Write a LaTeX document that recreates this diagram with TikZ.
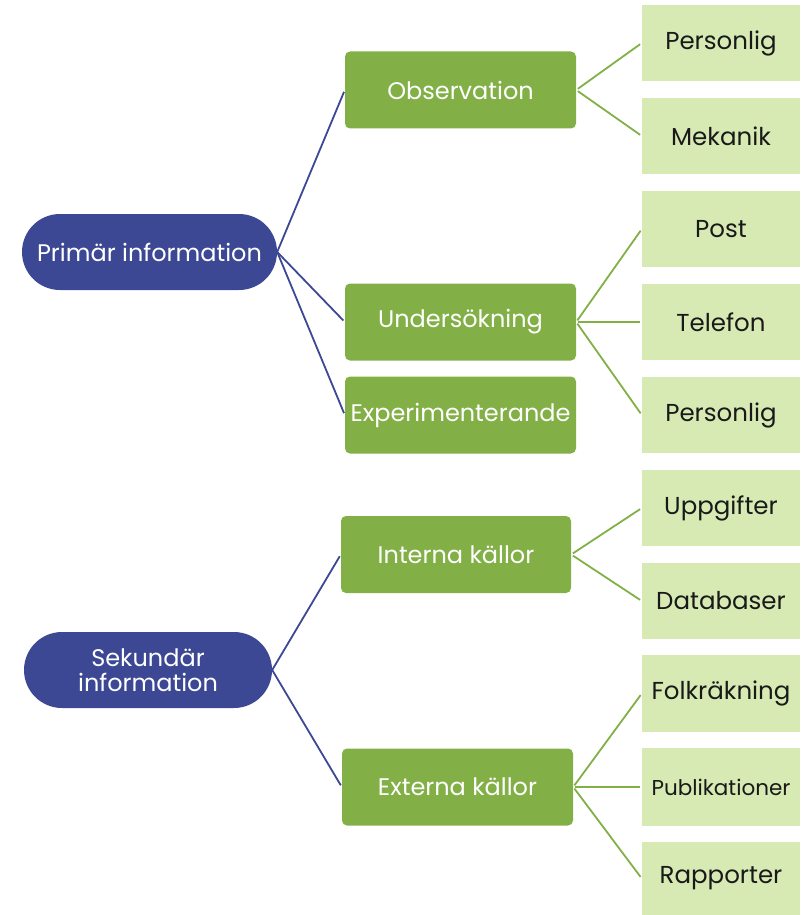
\documentclass[tikz,border=0pt]{standalone}
\usepackage{fontspec}
\setmainfont{Poppins}
\definecolor{infoblue}{HTML}{3C4894}
\definecolor{leafgreen}{HTML}{82B046}
\definecolor{palegreen}{HTML}{D7EAB4}
\begin{document}
\begin{tikzpicture}[x=1pt,y=-1pt,
    root/.style={fill=infoblue,text=white,rounded corners=38pt,minimum width=255pt,
      minimum height=76pt,font=\fontsize{24}{25}\selectfont,align=center,inner sep=0pt},
    branch/.style={fill=leafgreen,text=white,rounded corners=5pt,minimum width=231pt,
      minimum height=77pt,font=\fontsize{24}{25}\selectfont,inner sep=0pt},
    leaf/.style={fill=palegreen,text=black!90,minimum width=158pt,minimum height=76pt,
      font=\fontsize{24.5}{26}\selectfont,inner sep=0pt},
    blueline/.style={draw=infoblue,line width=1.8pt,shorten >=2pt},
    greenline/.style={draw=leafgreen,line width=1.8pt,shorten <=2pt,shorten >=2pt}]
  \useasboundingbox (0,0) rectangle (800,915);
  \draw
    (149.5,252) node[root] (prim){Primär information}
    (148,670) node[root,minimum width=248pt] (sek){Sekundär\\information}
    (460.5,90) node[branch] (obs){Observation}
    (460.5,322) node[branch] (und){Undersökning}
    (460.5,415) node[branch] (exp){Experimenterande}
    (456,554.5) node[branch,minimum width=230pt] (int){Interna källor}
    (457.5,787) node[branch,minimum width=231pt] (ext){Externa källor}
    (721,43) node[leaf] (obs1){Personlig}
    (721,136) node[leaf] (obs2){Mekanik}
    (721,229) node[leaf] (und1){Post}
    (721,322) node[leaf] (und2){Telefon}
    (721,415) node[leaf] (und3){Personlig}
    (721,508) node[leaf] (int1){Uppgifter}
    (721,601) node[leaf] (int2){Databaser}
    (721,693.5) node[leaf,minimum height=77pt] (ext1){Folkräkning}
    (721,787) node[leaf,minimum height=78pt,font=\fontsize{21.5}{24}\selectfont] (ext2){Publikationer}
    (721,878.5) node[leaf,minimum height=73pt] (ext3){Rapporter};
  \begin{scope}[blueline]
    \draw (prim.east) to (obs.west);
    \draw (prim.east) to (und.west);
    \draw (prim.east) to (exp.west);
    \draw (sek.east) to (int.west);
    \draw (sek.east) to (ext.west);
  \end{scope}
  \begin{scope}[greenline]
    \draw (obs.east) to (obs1.west);
    \draw (obs.east) to (obs2.west);
    \draw (und.east) to (und1.west);
    \draw (und.east) to (und2.west);
    \draw (und.east) to (und3.west);
    \draw (int.east) to (int1.west);
    \draw (int.east) to (int2.west);
    \draw (ext.east) to (ext1.west);
    \draw (ext.east) to (ext2.west);
    \draw (ext.east) to (ext3.west);
  \end{scope}
\end{tikzpicture}
\end{document}
